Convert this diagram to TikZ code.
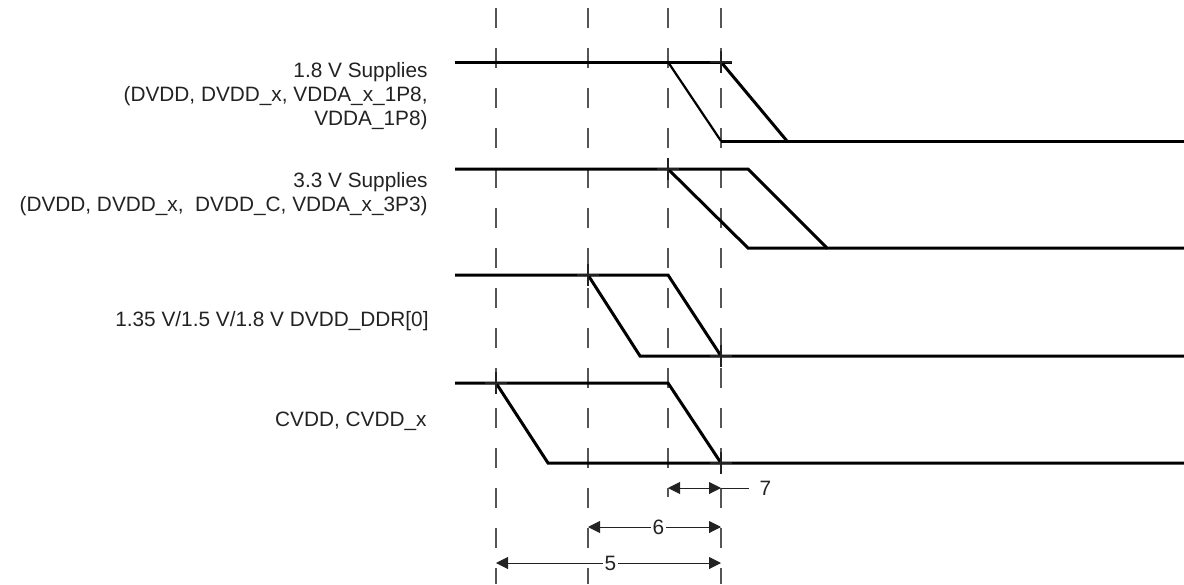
\documentclass[tikz,border=0pt]{standalone}
\usepackage{fontspec}
\setmainfont{Liberation Sans}
\usepackage{tikz}
\usetikzlibrary{arrows.meta}
\definecolor{ink}{HTML}{222222}
\definecolor{guide}{HTML}{555555}
\tikzstyle{signal}    = [line width=1.5pt, black]
\tikzstyle{thinsig}   = [line width=1.1pt, black]
\tikzstyle{guideline} = [line width=0.6pt, guide, dash pattern=on 10pt off 10pt]
\tikzstyle{tick}      = [line width=0.9pt, ink]
\tikzstyle{dim}       = [line width=0.5pt, ink, {Triangle[length=6pt,width=6pt]}-{Triangle[length=6pt,width=6pt]}]
\tikzstyle{railname}  = [anchor=east, align=right, inner sep=0pt, text=ink, font=\fontsize{10.4}{12}\selectfont]
\tikzstyle{dimlabel}  = [fill=white, inner sep=1pt, text=ink, font=\fontsize{10.4}{12}\selectfont]

\begin{document}
\begin{tikzpicture}[x=0.5pt, y=-0.5pt]
\useasboundingbox (0,0) rectangle (1184,584);

\foreach \x/\e in {496/584, 588/584, 668/497, 721/584}
  \draw [guideline] (\x,8) -- (\x,\e);

\node (sup18) [railname] at (428,96) {1.8 V Supplies\\(DVDD, DVDD\_x, VDDA\_x\_1P8,\\VDDA\_1P8)};
\node (sup33) [railname] at (428,194) {3.3 V Supplies\\(DVDD, DVDD\_x,\ \ DVDD\_C, VDDA\_x\_3P3)};
\node (ddr) [railname] at (429,321) {1.35 V/1.5 V/1.8 V DVDD\_DDR[0]};
\node (cvdd) [railname] at (427,421) {CVDD, CVDD\_x};

\draw [signal] (455,62) -- (732,62);
\draw [thinsig] (668,62) -- (721,141);
\draw [signal] (721,62) -- (787,141);
\draw [signal] (721,141) -- (1184,141);

\draw [signal] (455,169) -- (748,169) -- (827,248) -- (1184,248);
\draw [signal] (668,169) -- (748,248) -- (827,248);

\draw [signal] (455,275) -- (668,275) -- (721,356) -- (1184,356);
\draw [signal] (588,275) -- (640,356) -- (721,356);

\draw [signal] (455,383) -- (668,383) -- (721,463) -- (1184,463);
\draw [signal] (496,383) -- (548,463) -- (721,463);

\foreach \x/\y in {721/62, 668/169, 588/275, 721/356, 496/383, 721/463}
  \draw [tick] (\x,\y) ++(-11,0) -- ++(22,0) (\x,\y) ++(0,-11) -- ++(0,22);

\coordinate (a7) at (668,488);
\coordinate (b7) at (721,488);
\coordinate (c7) at (749,488);
\coordinate (a6) at (588,527);
\coordinate (b6) at (721,527);
\coordinate (a5) at (496,563);
\coordinate (b5) at (721,563);

\draw [dim] (a7) -- (b7);
\draw [line width=0.5pt, ink] (b7) -- (c7) node (t7) [anchor=west, inner sep=0pt, xshift=5pt, text=ink, font=\fontsize{10.4}{12}\selectfont] {7};
\draw [dim] (a6) -- node (t6) [dimlabel, xshift=2pt] {6} (b6);
\draw [dim] (a5) -- node (t5) [dimlabel, xshift=1pt] {5} (b5);
\end{tikzpicture}
\end{document}
